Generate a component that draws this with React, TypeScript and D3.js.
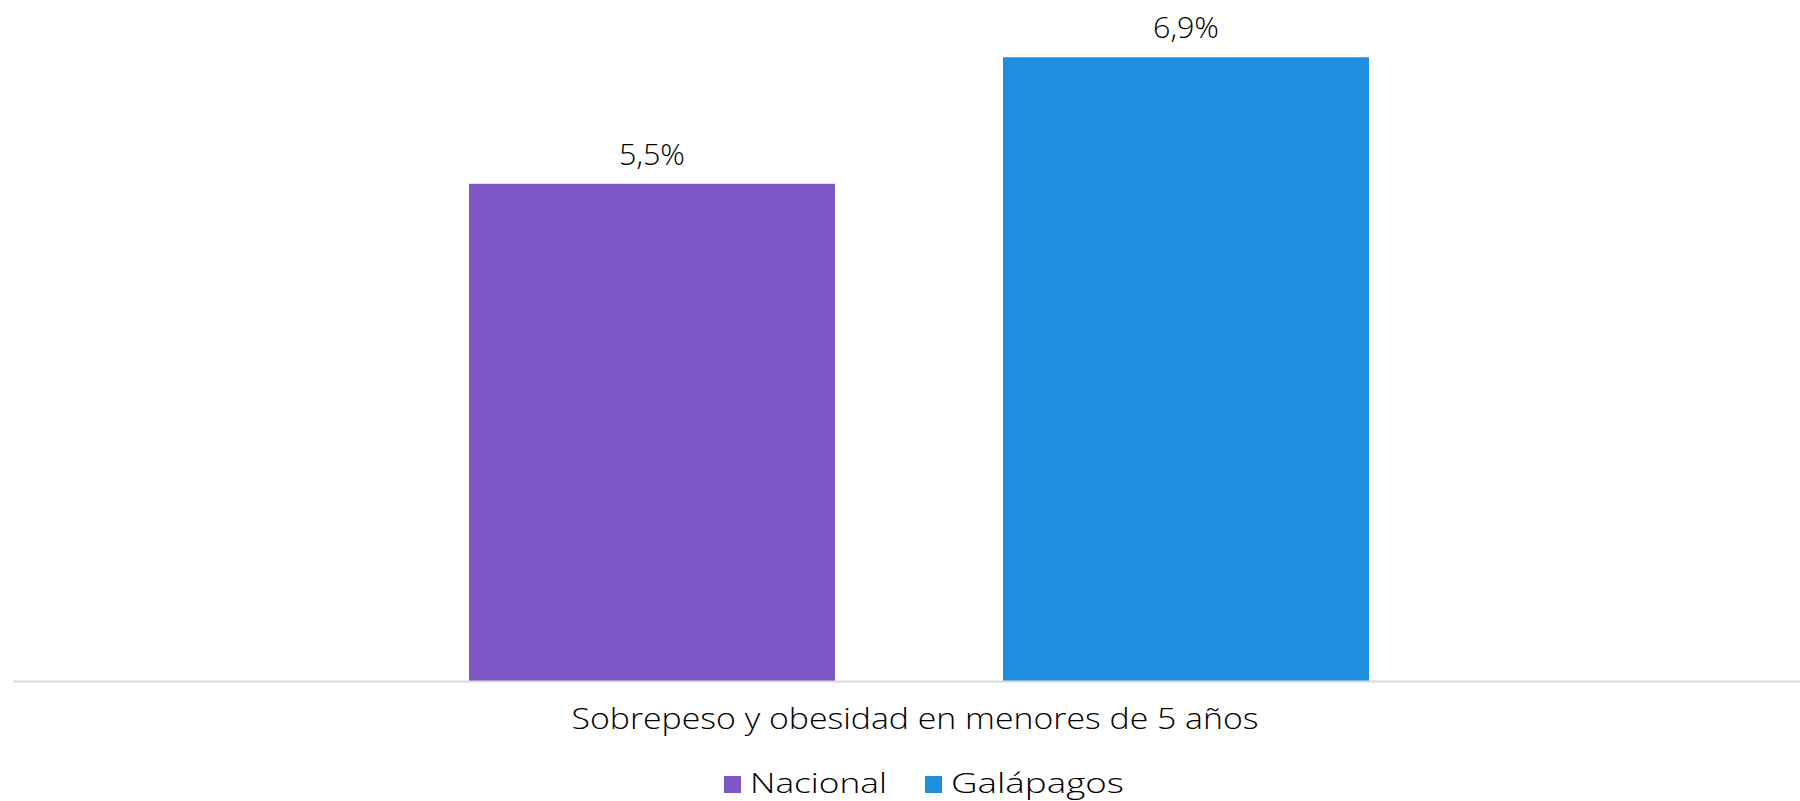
import React from "react";
import * as d3 from "d3";

const categories = ["Sobrepeso y obesidad en menores de 5 años"];
const seriesNames = ["Nacional", "Galápagos"];
const nacionalValues = [5.5];
const galapagosValues = [6.9];
const seriesColors = ["#7E57C6", "#1F8EDF"];

const W = 1800;
const H = 801;
const FONT = "'Century Gothic', 'URW Gothic', 'Open Sans', 'Lato', sans-serif";

export default function App() {
  const baseY = 681;
  const y = d3.scaleLinear().domain([0, 7.5]).range([baseY, baseY - 678]);
  const x0 = d3.scaleBand<string>().domain(categories).range([13, 1825]).padding(0);
  const x1 = d3
    .scaleBand<string>()
    .domain(seriesNames)
    .range([0, x0.bandwidth()])
    .paddingInner(0.3146)
    .paddingOuter(0.854);
  const seriesValues = [nacionalValues, galapagosValues];
  const fmt = (v: number) => v.toFixed(1).replace(".", ",") + "%";

  const legendItems = [
    { name: seriesNames[0], color: seriesColors[0], x: 724, len: 137 },
    { name: seriesNames[1], color: seriesColors[1], x: 925, len: 173 },
  ];

  return (
    <svg
      width={W}
      height={H}
      style={{ position: "absolute", left: 0, top: 0, background: "#fff" }}
      fontFamily={FONT}
      fontWeight={300}
    >
      <rect x={0} y={0} width={W} height={H} fill="#fff" />
      {categories.map((c, ci) => (
        <g key={c} transform={`translate(${x0(c)},0)`}>
          {seriesNames.map((s, si) => {
            const v = seriesValues[si][ci];
            const bx = x1(s)!;
            const bw = x1.bandwidth();
            return (
              <g key={s}>
                <rect x={bx} y={y(v)} width={bw} height={baseY - y(v)} fill={seriesColors[si]} />
                <text
                  x={bx + bw / 2}
                  y={y(v) - 19}
                  textAnchor="middle"
                  fontSize={30}
                  fill="#000"
                  textLength={66}
                  lengthAdjust="spacingAndGlyphs"
                >
                  {fmt(v)}
                </text>
              </g>
            );
          })}
          <text
            x={x0.bandwidth() / 2}
            dx={-4}
            y={729}
            textAnchor="middle"
            fontSize={29}
            fill="#000"
            textLength={687}
            lengthAdjust="spacingAndGlyphs"
          >
            {c}
          </text>
        </g>
      ))}
      <line x1={13} x2={W} y1={baseY + 0.5} y2={baseY + 0.5} stroke="#D9D9D9" strokeWidth={2} />
      {legendItems.map((it) => (
        <g key={it.name}>
          <rect x={it.x} y={776} width={17} height={17} fill={it.color} />
          <text
            x={it.x + 26}
            y={793}
            fontSize={28}
            fill="#000"
            textLength={it.len}
            lengthAdjust="spacingAndGlyphs"
          >
            {it.name}
          </text>
        </g>
      ))}
    </svg>
  );
}
